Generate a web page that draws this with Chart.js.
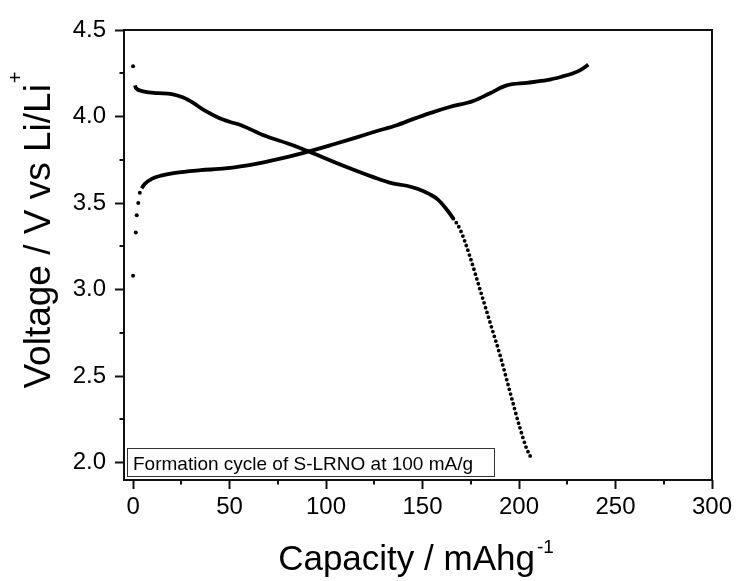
<!DOCTYPE html>
<html lang="en">
<head>
    <meta charset="UTF-8" />
    <title>Formation cycle of S-LRNO</title>
    <style>
        html, body {
            margin: 0;
            padding: 0;
            background: #fff;
        }
        .chart-box {
            width: 739px;
            height: 581px;
        }
    </style>
    <script src="https://cdn.jsdelivr.net/npm/chart.js"></script>
</head>
<body>
    <div class="chart-box"><canvas id="cycle-chart"></canvas></div>
    <script>
        // values
        const chargeCap = [0, 1.4, 1.9, 2.7, 3.5, 4.5, 6, 9.7, 15, 21.8, 35, 47.7, 65, 81.3, 91.7, 104, 115.9, 126, 136.6, 145, 153.9, 164, 176.3, 185, 193.6, 204, 214.4, 222, 228, 232, 235.9];
        const chargeV = [3.08, 3.33, 3.43, 3.50, 3.56, 3.585, 3.61, 3.64, 3.66, 3.675, 3.69, 3.70, 3.73, 3.77, 3.80, 3.84, 3.88, 3.915, 3.95, 3.985, 4.02, 4.055, 4.09, 4.135, 4.18, 4.195, 4.21, 4.23, 4.25, 4.27, 4.30];

        const dischargeCap = [0, 1, 2, 3.6, 8, 13, 20, 26, 31, 37, 44, 50, 56, 68, 81.3, 91.7, 108, 124.5, 134, 141.8, 148, 153.9, 158, 162, 166, 169.4, 174.6, 179.8, 185, 190.2, 195.3, 200.5, 204, 206.7];
        const dischargeV = [4.29, 4.18, 4.16, 4.15, 4.14, 4.135, 4.13, 4.11, 4.08, 4.035, 3.995, 3.97, 3.95, 3.89, 3.84, 3.795, 3.72, 3.65, 3.615, 3.60, 3.58, 3.55, 3.52, 3.47, 3.41, 3.35, 3.19, 3.00, 2.81, 2.62, 2.41, 2.20, 2.08, 2.02];

        const xTicks = [0, 50, 100, 150, 200, 250, 300];
        const xMinor = [25, 75, 125, 175, 225, 275];
        const yTicks = [2.0, 2.5, 3.0, 3.5, 4.0, 4.5];
        const yMinor = [2.25, 2.75, 3.25, 3.75, 4.25];

        const FONT = "'Liberation Sans', Arial, sans-serif";

        function toPoints(xs, ys) {
            return xs.map((x, i) => ({ x: x, y: ys[i] }));
        }

        // frame, minor ticks, note box and axis titles
        const decorations = {
            id: 'decorations',
            afterDraw(chart) {
                const ctx = chart.ctx;
                const area = chart.chartArea;
                const sx = chart.scales.x;
                const sy = chart.scales.y;
                ctx.save();
                ctx.strokeStyle = '#111';
                ctx.lineWidth = 2;
                ctx.strokeRect(area.left, area.top, area.right - area.left, area.bottom - area.top);

                ctx.beginPath();
                xMinor.forEach(v => {
                    const px = Math.round(sx.getPixelForValue(v));
                    ctx.moveTo(px, area.bottom);
                    ctx.lineTo(px, area.bottom + 4.5);
                });
                yMinor.forEach(v => {
                    const py = Math.round(sy.getPixelForValue(v));
                    ctx.moveTo(area.left, py);
                    ctx.lineTo(area.left - 4.5, py);
                });
                ctx.stroke();

                // note box
                ctx.lineWidth = 1;
                ctx.strokeStyle = '#333';
                ctx.strokeRect(127.5, 448.5, 367, 28);
                ctx.fillStyle = '#000';
                ctx.font = '19px ' + FONT;
                ctx.textAlign = 'left';
                ctx.textBaseline = 'alphabetic';
                ctx.fillText('Formation cycle of S-LRNO at 100 mA/g', 133, 470);

                // x title with superscript
                ctx.font = '35px ' + FONT;
                const xMain = 'Capacity / mAhg';
                const xw = ctx.measureText(xMain).width;
                ctx.font = '19px ' + FONT;
                const xs = ctx.measureText('-1').width;
                const xStart = 416 - (xw + 2 + xs) / 2;
                ctx.font = '35px ' + FONT;
                ctx.fillText(xMain, xStart, 570);
                ctx.font = '19px ' + FONT;
                ctx.fillText('-1', xStart + xw + 2, 553);

                // y title with superscript
                ctx.translate(50, 230);
                ctx.rotate(-Math.PI / 2);
                ctx.font = '37px ' + FONT;
                const yMain = 'Voltage / V vs Li/Li';
                const yw = ctx.measureText(yMain).width;
                ctx.font = '20px ' + FONT;
                const ys = ctx.measureText('+').width;
                const yStart = -(yw + 1 + ys) / 2;
                ctx.font = '37px ' + FONT;
                ctx.fillText(yMain, yStart, 0);
                ctx.font = '20px ' + FONT;
                ctx.fillText('+', yStart + yw + 1, -28);
                ctx.restore();
            }
        };

        new Chart(document.getElementById('cycle-chart'), {
            type: 'line',
            data: {
                datasets: [
                    {
                        label: 'Charge',
                        data: toPoints(chargeCap, chargeV),
                        borderColor: '#000',
                        backgroundColor: '#000',
                        borderWidth: 3.8,
                        cubicInterpolationMode: 'monotone',
                        fill: false,
                        pointRadius: ctx => (ctx.parsed && ctx.parsed.x < 4 ? 2 : 0),
                        pointBorderWidth: 0,
                        segment: {
                            borderColor: ctx => (ctx.p0.parsed.x < 4 ? 'rgba(0,0,0,0)' : undefined)
                        }
                    },
                    {
                        label: 'Discharge',
                        data: toPoints(dischargeCap, dischargeV),
                        borderColor: '#000',
                        backgroundColor: '#000',
                        borderWidth: 3.8,
                        cubicInterpolationMode: 'monotone',
                        fill: false,
                        pointRadius: ctx => (ctx.dataIndex === 0 ? 2 : 0),
                        pointBorderWidth: 0,
                        segment: {
                            borderColor: ctx => (ctx.p0DataIndex === 0 ? 'rgba(0,0,0,0)' : undefined),
                            borderDash: ctx => (ctx.p0.parsed.x >= 166 ? [0, 5] : undefined),
                            borderCapStyle: ctx => (ctx.p0.parsed.x >= 166 ? 'round' : undefined)
                        }
                    }
                ]
            },
            options: {
                responsive: true,
                maintainAspectRatio: false,
                animation: false,
                devicePixelRatio: 1,
                layout: {
                    padding: { left: 0, top: 30, right: 27, bottom: 0 }
                },
                plugins: {
                    legend: { display: false },
                    tooltip: { enabled: false }
                },
                scales: {
                    x: {
                        type: 'linear',
                        min: -4.7,
                        max: 300,
                        afterFit: s => { s.height = 101; },
                        afterBuildTicks: s => { s.ticks = xTicks.map(v => ({ value: v })); },
                        border: { display: false },
                        grid: {
                            drawOnChartArea: false,
                            drawTicks: true,
                            tickLength: 9,
                            tickWidth: 2,
                            tickColor: '#111'
                        },
                        ticks: {
                            color: '#000',
                            padding: 4,
                            maxRotation: 0,
                            font: { family: FONT, size: 24 },
                            callback: v => String(v)
                        }
                    },
                    y: {
                        type: 'linear',
                        min: 1.9,
                        max: 4.5,
                        afterFit: s => { s.width = 124; },
                        afterBuildTicks: s => { s.ticks = yTicks.map(v => ({ value: v })); },
                        border: { display: false },
                        grid: {
                            drawOnChartArea: false,
                            drawTicks: true,
                            tickLength: 9,
                            tickWidth: 2,
                            tickColor: '#111'
                        },
                        ticks: {
                            color: '#000',
                            padding: 9,
                            font: { family: FONT, size: 24 },
                            callback: v => Number(v).toFixed(1)
                        }
                    }
                }
            },
            plugins: [decorations]
        });
    </script>
</body>
</html>
